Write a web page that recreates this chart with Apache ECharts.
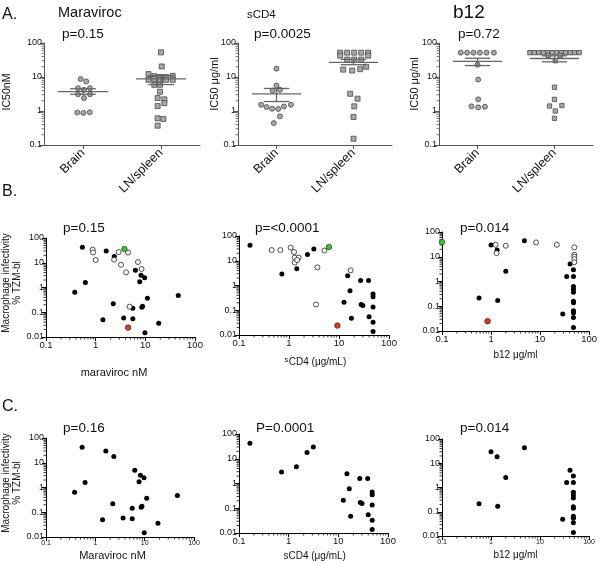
<!DOCTYPE html>
<html><head><meta charset="utf-8">
<script src="https://cdn.jsdelivr.net/npm/echarts@6/dist/echarts.min.js"></script>
<style>html,body{margin:0;padding:0;background:#fff}#c{width:600px;height:563px}</style>
</head><body><div id="c"></div>
<script>
// ================= DATA =================
// Panel A: IC50 values per tissue (beeswarm column offsets)
const groupLabels = ['Brain', 'LN/spleen'];
const yTickLabelsA = ['0.1', '1', '10', '100'];
const yTickLabelsBC = ['0.01', '0.1', '1', '10', '100'];
const xTickLabelsBC = ['0.1', '1', '10', '100'];

const maraBrain    = [8.7, 7.4, 4.7, 4.2, 4.7, 3.1, 3.1, 2.4, 0.9, 0.88, 0.92];
const maraBrainJit = [-0.03, 0.042, -0.064, 0.013, 0.09, -0.064, 0.09, 0.013, -0.073, 0.004, 0.086];
const maraLn       = [53, 20.4, 12.2, 10.6, 10, 10, 10.8, 8.3, 8.6, 8.3, 8.3, 8.3, 5.9, 5.9, 3.7, 2.4, 2.2, 1.7, 1.4, 0.61, 0.58, 0.37];
const maraLnJit    = [0, 0.01, -0.16, -0.086, -0.013, 0.064, 0.15, -0.16, -0.086, -0.013, 0.064, 0.15, -0.086, -0.013, -0.013, -0.043, 0.043, 0.043, -0.043, -0.043, 0.03, -0.043];
const maraMean  = [3.7, 8.8];
const maraSemLo = [3.1, 6.0];
const maraSemHi = [4.5, 11];

const scd4Brain    = [17.6, 5.6, 4.0, 4.2, 1.53, 1.31, 1.17, 1.15, 1.36, 1.53, 0.70, 0.44];
const scd4BrainJit = [0, 0, -0.05, 0.045, -0.2, -0.13, -0.057, 0.022, 0.096, 0.187, 0.045, -0.035];
const scd4Ln       = [52, 52, 52, 52, 52, 42.5, 42.5, 32.5, 32.5, 32.5, 16.5, 15.5, 17, 20, 3.2, 2.3, 1.37, 0.67, 0.153];
const scd4LnJit    = [-0.173, -0.082, 0.009, 0.1, 0.19, -0.173, 0.19, -0.082, 0.009, 0.1, -0.134, -0.017, 0.087, 0.165, -0.043, 0.052, 0.01, 0, 0];
const scd4Mean  = [3.2, 27];
const scd4SemLo = [1.9, 23];
const scd4SemHi = [4.6, 33];

const b12Brain    = [52, 52, 52, 52, 52, 52, 23, 8.4, 2.2, 1.37, 1.28, 1.33];
const b12BrainJit = [-0.217, -0.135, -0.052, 0.03, 0.117, 0.213, 0, 0.009, 0.009, -0.078, 0.009, 0.096];
const b12Ln       = [52, 52, 52, 52, 52, 52, 52, 52, 52, 52, 52, 52, 43, 43, 30, 5.0, 2.2, 1.4, 1.45, 1.0, 0.61];
const b12LnJit    = [-0.32, -0.262, -0.204, -0.146, -0.088, -0.03, 0.03, 0.088, 0.146, 0.204, 0.262, 0.32, -0.082, 0.074, 0.01, 0, 0, -0.065, 0.096, 0.01, 0];
const b12Mean  = [29, 35];
const b12SemLo = [21.7, 28];
const b12SemHi = [35.6, 42];

// Panels B/C: IC50 (x) vs macrophage infectivity % TZM-bl (y)
// filled (shown in B and C)
const maraX = [0.54, 1.63, 2.37, 6.3, 8.2, 9.7, 7.7, 0.62, 0.38, 46, 11, 2.26, 5.6, 8.5, 8.8, 1.4, 3.65, 5.6, 18.6, 9.8];
const maraY = [42, 30, 18, 5.0, 3.1, 2.5, 1.7, 1.6, 0.65, 0.47, 0.37, 0.22, 0.145, 0.16, 0.175, 0.05, 0.058, 0.055, 0.036, 0.015];
const maraOpenX = [0.87, 0.89, 1.0, 2.35, 2.9, 3.24, 4.5, 4.1, 7.1, 8.4, 4.8];
const maraOpenY = [34, 26, 12.9, 13.3, 27, 8.3, 26, 4.1, 10.7, 5.6, 0.168];
const maraGreen = [3.8, 36];
const maraRed   = [4.5, 0.024];

const scd4X = [0.166, 0.72, 1.43, 2.34, 3.14, 14.9, 27, 39, 16.6, 48, 48, 12.6, 27.7, 30, 48, 17.7, 40, 48, 48];
const scd4Y = [42, 2.9, 4.8, 18, 30, 2.5, 1.6, 1.6, 0.62, 0.45, 0.35, 0.21, 0.17, 0.155, 0.135, 0.048, 0.055, 0.033, 0.014];
const scd4OpenX = [0.45, 0.67, 1.08, 1.26, 1.3, 1.56, 1.3, 1.45, 3.7, 5.1, 17.1, 3.47];
const scd4OpenY = [27, 27, 34, 22.6, 13.3, 13.5, 8.4, 10.7, 5.4, 25.7, 4.1, 0.17];
const scd4Green = [6.3, 36];
const scd4Red   = [9.3, 0.024];

const b12X = [1.0, 1.33, 4.8, 2.0, 0.57, 1.37, 41, 35, 29, 48, 48, 48, 48, 48, 48, 48, 48, 48, 48, 48];
const b12Y = [30, 18.6, 44, 2.6, 0.215, 0.17, 5.1, 1.6, 0.049, 3.0, 1.6, 0.63, 0.49, 0.37, 0.16, 0.14, 0.066, 0.054, 0.035, 0.014];
const b12OpenX = [1.24, 1.3, 2.0, 8.3, 22, 50, 50, 50, 50, 50];
const b12OpenY = [30.5, 14, 27.8, 38, 30.5, 24, 12, 10, 8, 6];
const b12Green = [0.1, 39];
const b12Red   = [0.85, 0.025];

// ================= CHART =================
const FONT = '"Liberation Sans", Arial, Helvetica, sans-serif';
const chart = echarts.init(document.getElementById('c'), null, {renderer: 'canvas'});
const fmt = v => String(parseFloat(Number(v).toPrecision(6)));

const grids = [
  {left: 44,  top: 43,  width: 156, height: 102},
  {left: 238, top: 43,  width: 154, height: 102},
  {left: 439, top: 43,  width: 154, height: 102},
  {left: 46,  top: 238, width: 149, height: 99},
  {left: 239, top: 236, width: 150, height: 99},
  {left: 442, top: 232, width: 148, height: 99},
  {left: 46,  top: 438, width: 148, height: 99},
  {left: 239, top: 434, width: 149, height: 99},
  {left: 442, top: 439, width: 147, height: 97}
];

const xAxes = [], yAxes = [], series = [];
const minorMults = [2, 3, 4, 5, 6, 7, 8, 9];

function logAxis(i, min, max, color, fs, isX) {
  return {
    gridIndex: i, type: 'log', logBase: 10, min: min, max: max,
    axisLine: {show: true, onZero: false, lineStyle: {color: color, width: 1}},
    axisTick: {show: true, length: 4, lineStyle: {color: color, width: 1}},
    minorTick: {show: false},
    splitLine: {show: false},
    axisLabel: {fontSize: fs, color: '#111', fontFamily: FONT, margin: isX ? 3 : 2, formatter: fmt}
  };
}

function minorTicks(i, xLog, xMin, xMax, yMin, yMax, color) {
  const x0 = xLog ? xMin : -0.5;
  return {
    type: 'custom', xAxisIndex: i, yAxisIndex: i, silent: true, z: 1, clip: false,
    data: [[x0, yMin]],
    renderItem: (params, api) => {
      const ch = [];
      for (let d = yMin; d < yMax * 0.999; d *= 10) {
        for (const m of minorMults) {
          const p = api.coord([x0, d * m]);
          ch.push({type: 'line', shape: {x1: p[0] - 2.5, y1: p[1], x2: p[0], y2: p[1]}, style: {stroke: color, lineWidth: 0.8}});
        }
      }
      if (xLog) {
        for (let d = xMin; d < xMax * 0.999; d *= 10) {
          for (const m of minorMults) {
            const p = api.coord([d * m, yMin]);
            ch.push({type: 'line', shape: {x1: p[0], y1: p[1], x2: p[0], y2: p[1] + 2.5}, style: {stroke: color, lineWidth: 0.8}});
          }
        }
      }
      return {type: 'group', children: ch};
    }
  };
}

function meanSem(params, api) {
  const g = api.value(0), m = api.value(1), lo = api.value(2), hi = api.value(3);
  const a = api.coord([g - 0.32, m]), b = api.coord([g + 0.32, m]);
  const l1 = api.coord([g - 0.165, lo]), l2 = api.coord([g + 0.165, lo]);
  const h1 = api.coord([g - 0.165, hi]), h2 = api.coord([g + 0.165, hi]);
  const c1 = api.coord([g, lo]), c2 = api.coord([g, hi]);
  const st = {stroke: '#666', lineWidth: 1.3};
  const L = (p, q) => ({type: 'line', shape: {x1: p[0], y1: p[1], x2: q[0], y2: q[1]}, style: st});
  return {type: 'group', children: [L(a, b), L(l1, l2), L(h1, h2), L(c1, c2)]};
}

// ---- Row A ----
const rowA = [
  [maraBrain, maraBrainJit, maraLn, maraLnJit, maraMean, maraSemLo, maraSemHi, 5],
  [scd4Brain, scd4BrainJit, scd4Ln, scd4LnJit, scd4Mean, scd4SemLo, scd4SemHi, 5],
  [b12Brain, b12BrainJit, b12Ln, b12LnJit, b12Mean, b12SemLo, b12SemHi, 4.3]
];
rowA.forEach((r, i) => {
  const [brain, bj, ln, lj, mean, lo, hi, sq] = r;
  xAxes.push({
    gridIndex: i, type: 'value', min: -0.5, max: 1.5,
    axisLine: {show: true, onZero: false, lineStyle: {color: '#555', width: 1}},
    axisTick: {show: true, customValues: [0, 1], length: 4, lineStyle: {color: '#555'}},
    axisLabel: {show: true, customValues: [0, 1], formatter: v => groupLabels[Math.round(v)],
      rotate: 45, fontSize: 12.5, color: '#111', fontFamily: FONT, margin: 6},
    splitLine: {show: false}
  });
  const ya = logAxis(i, 0.1, 100, '#555', 9, false);
  yAxes.push(ya);
  series.push(minorTicks(i, false, 0, 0, 0.1, 100, '#555'));
  series.push({type: 'scatter', xAxisIndex: i, yAxisIndex: i, symbol: 'circle', symbolSize: 5, z: 3,
    itemStyle: {color: '#a8a8a8', borderColor: '#4a4a4a', borderWidth: 0.8, opacity: 1},
    data: brain.map((v, k) => [0 + bj[k], v])});
  series.push({type: 'scatter', xAxisIndex: i, yAxisIndex: i, symbol: 'rect', symbolSize: sq, z: 3,
    itemStyle: {color: '#a8a8a8', borderColor: '#4a4a4a', borderWidth: 0.8, opacity: 1},
    data: ln.map((v, k) => [1 + lj[k], v])});
  series.push({type: 'custom', xAxisIndex: i, yAxisIndex: i, z: 4, silent: true,
    encode: {x: 0, y: 1},
    data: [0, 1].map(g => [g, mean[g], lo[g], hi[g]]), renderItem: meanSem});
});

// ---- Rows B and C ----
const bcPanels = [
  // [gridIdx, xs, ys, openX, openY, green, red, xLabelSize]
  [3, maraX, maraY, maraOpenX, maraOpenY, maraGreen, maraRed, 9.5],
  [4, scd4X, scd4Y, scd4OpenX, scd4OpenY, scd4Green, scd4Red, 9.5],
  [5, b12X, b12Y, b12OpenX, b12OpenY, b12Green, b12Red, 9.5],
  [6, maraX, maraY, null, null, null, null, 7],
  [7, scd4X, scd4Y, null, null, null, null, 9.5],
  [8, b12X, b12Y, null, null, null, null, 7]
];
bcPanels.forEach(p => {
  const [i, xs, ys, ox, oy, gr, rd, xfs] = p;
  xAxes.push(logAxis(i, 0.1, 100, '#000', xfs, true));
  yAxes.push(logAxis(i, 0.01, 100, '#000', 9, false));
  series.push(minorTicks(i, true, 0.1, 100, 0.01, 100, '#000'));
  series.push({type: 'scatter', xAxisIndex: i, yAxisIndex: i, symbol: 'circle', symbolSize: 5, z: 3,
    itemStyle: {color: '#000', opacity: 1}, data: xs.map((x, k) => [x, ys[k]])});
  if (ox) {
    series.push({type: 'scatter', xAxisIndex: i, yAxisIndex: i, symbol: 'circle', symbolSize: 5, z: 3,
      itemStyle: {color: '#fff', borderColor: '#222', borderWidth: 0.8, opacity: 1},
      data: ox.map((x, k) => [x, oy[k]])});
    series.push({type: 'scatter', xAxisIndex: i, yAxisIndex: i, symbol: 'circle', symbolSize: 5.5, z: 4, clip: false,
      itemStyle: {color: '#3cc23c', borderColor: '#1d5a1d', borderWidth: 0.8, opacity: 1}, data: [gr]});
    series.push({type: 'scatter', xAxisIndex: i, yAxisIndex: i, symbol: 'circle', symbolSize: 5.5, z: 4, clip: false,
      itemStyle: {color: '#d2402c', borderColor: '#5a1a10', borderWidth: 0.8, opacity: 1}, data: [rd]});
  }
});

// ---- free texts ----
const T = (text, x, y, fs, extra) => Object.assign({type: 'text', x: x, y: y, silent: true,
  style: {text: text, fontSize: fs, fontFamily: FONT, fill: '#111', align: 'left', verticalAlign: 'middle'}}, extra || {});
const R = (text, x, y, fs) => ({type: 'text', x: x, y: y, rotation: Math.PI / 2, silent: true,
  style: {text: text, fontSize: fs, fontFamily: FONT, fill: '#111', align: 'center', verticalAlign: 'middle'}});
const C = (text, x, y, fs) => ({type: 'text', x: x, y: y, silent: true,
  style: {text: text, fontSize: fs, fontFamily: FONT, fill: '#111', align: 'center', verticalAlign: 'middle'}});

const graphic = [
  T('A.', 2, 14.5, 16), T('B.', 2, 192, 16), T('C.', 2, 407, 16),
  T('Maraviroc', 58, 13, 14.5), T('sCD4', 247, 15, 11.5), T('b12', 453, 12.5, 19),
  T('p=0.15', 62, 34.5, 13.5), T('p=0.0025', 254, 34.5, 13.5), T('p=0.72', 458, 34.5, 13.5),
  R('IC50nM', 7.5, 92, 10.5), R('IC50 μg/ml', 215, 84, 11), R('IC50 μg/ml', 415, 84, 11),
  T('p=0.15', 63, 228, 13.5), T('p=<0.0001', 255, 228, 13.5), T('p=0.014', 460, 228, 13.5),
  R('Macrophage infectivity', 6, 283, 10), R('% TZM-bl', 17, 283, 10),
  C('maraviroc nM', 114, 372.5, 11),
  T('s', 284.5, 360, 7.5), T('CD4 (μg/mL)', 288.8, 362, 10),
  C('b12 μg/ml', 515.5, 355, 10),
  T('p=0.16', 63, 428, 13.5), T('P=0.0001', 256, 428, 13.5), T('p=0.014', 460, 428, 13.5),
  R('Macrophage infectivity', 6, 483, 10), R('% TZM-bl', 17, 483, 10),
  C('Maraviroc nM', 112.5, 556, 11), C('sCD4 (μg/mL)', 314.7, 556, 10), C('b12 μg/ml', 515.5, 555, 10)
];

chart.setOption({
  backgroundColor: '#fff',
  animation: false,
  textStyle: {fontFamily: FONT},
  grid: grids.map(g => Object.assign({containLabel: false}, g)),
  xAxis: xAxes,
  yAxis: yAxes,
  series: series,
  graphic: graphic
});
</script>
</body></html>
